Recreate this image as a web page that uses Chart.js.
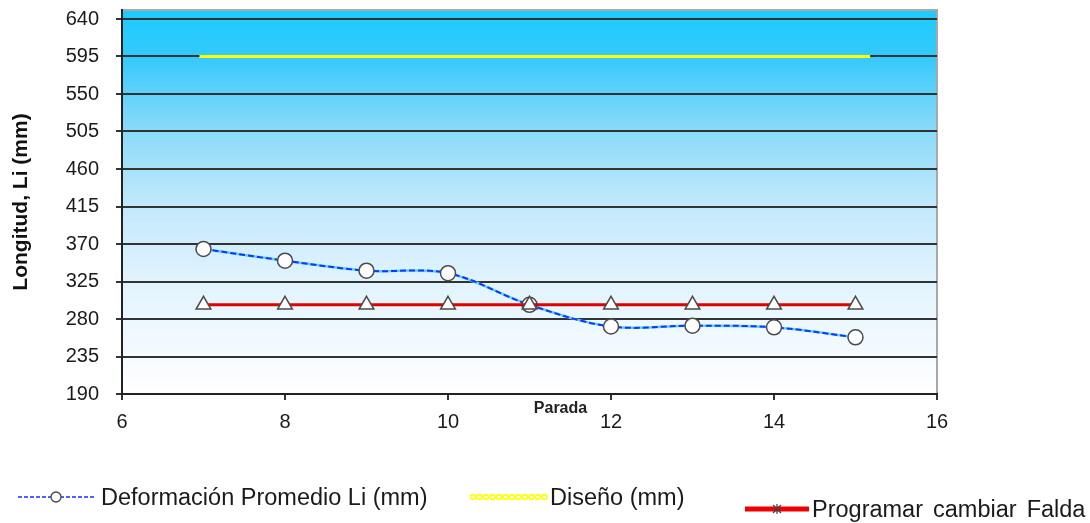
<!DOCTYPE html>
<html><head><meta charset="utf-8">
<script src="https://cdn.jsdelivr.net/npm/chart.js@4/dist/chart.umd.min.js"></script>
<style>
html,body{margin:0;padding:0;background:#fff;width:1090px;height:523px;overflow:hidden;}
#wrap{position:relative;width:1090px;height:523px;}
canvas{position:absolute;left:0;top:0;}
.lg{position:absolute;height:28px;display:flex;align-items:center;font-family:'Liberation Sans',Arial,sans-serif;font-size:23.5px;color:#1a1a1a;white-space:pre;}
.lg svg{display:block;}
</style></head>
<body><div id="wrap"><canvas id="c" width="1090" height="523"></canvas>
<div class="lg" style="left:18px;top:483px;"><svg width="80" height="16"><line x1="0" y1="8" x2="78" y2="8" stroke="#1a2cff" stroke-width="1.5" stroke-dasharray="4,2"/><circle cx="38" cy="8" r="5" fill="#fff" stroke="#444" stroke-width="1.3"/></svg><span style="margin-left:3px">Deformación Promedio Li (mm)</span></div>
<div class="lg" style="left:470px;top:483px;"><svg width="80" height="16" id="ysym"></svg><span>Diseño (mm)</span></div>
<div class="lg" style="left:745px;top:495px;word-spacing:3.5px;"><svg width="64" height="16"><line x1="0" y1="8" x2="63" y2="8" stroke="#ee0000" stroke-width="5" stroke-linecap="round"/><g stroke="#444" stroke-width="1.2"><line x1="28" y1="4" x2="36" y2="12"/><line x1="36" y1="4" x2="28" y2="12"/><line x1="32" y1="3" x2="32" y2="13"/></g></svg><span style="margin-left:3px">Programar cambiar Falda</span></div>
</div>
<script>
const paradas = [7, 8, 9, 10, 11, 12, 13, 14, 15];
const deformacion = [364, 350, 338, 335, 297, 271, 272, 270, 258];
const programar = [297, 297, 297, 297, 297, 297, 297, 297, 297];
const disenoX = [6.95, 15.18];
const disenoY = [595, 595];
const yTickValues = [190, 235, 280, 325, 370, 415, 460, 505, 550, 595, 640];
const xTickValues = [6, 8, 10, 12, 14, 16];

// yellow legend symbol
(function(){
  const s = document.getElementById('ysym');
  let h = '';
  for (let x = 3; x <= 76; x += 6.5) h += '<circle cx="'+x+'" cy="8" r="2.4" fill="none" stroke="#ffff00" stroke-width="1.6"/>';
  s.innerHTML = h;
})();

const toXY = (xs, ys) => xs.map((x, i) => ({x: x, y: ys[i]}));

const bgPlugin = {
  id: 'bg',
  beforeDraw(chart) {
    const {ctx, chartArea: a} = chart;
    const g = ctx.createLinearGradient(0, a.top, 0, a.bottom);
    g.addColorStop(0, '#1ecbff');
    g.addColorStop(0.12, '#33c9fb');
    g.addColorStop(0.30, '#86d9f9');
    g.addColorStop(0.50, '#c0e8fb');
    g.addColorStop(0.70, '#e0f3fd');
    g.addColorStop(0.88, '#f3faff');
    g.addColorStop(1, '#ffffff');
    ctx.save();
    ctx.fillStyle = g;
    ctx.fillRect(a.left, a.top, a.right - a.left, a.bottom - a.top);
    ctx.strokeStyle = '#a8a8a8';
    ctx.lineWidth = 2;
    ctx.beginPath();
    ctx.moveTo(a.left, a.top);
    ctx.lineTo(a.right, a.top);
    ctx.lineTo(a.right, a.bottom);
    ctx.stroke();
    ctx.restore();
  },
  afterDraw(chart) {
    const {ctx, chartArea: a} = chart;
    ctx.save();
    ctx.font = 'bold 16px "Liberation Sans", Arial, sans-serif';
    ctx.fillStyle = '#222';
    ctx.textAlign = 'center';
    ctx.textBaseline = 'middle';
    ctx.fillText('Parada', (a.left + a.right) / 2 + 31, a.bottom + 15);
    ctx.restore();
  }
};

const pointCommon = {
  pointBackgroundColor: '#ffffff',
  pointBorderColor: '#4a4a4a',
  pointBorderWidth: 1.5
};

new Chart(document.getElementById('c'), {
  type: 'scatter',
  data: {
    datasets: [
      Object.assign({
        label: 'Programar cambiar Falda',
        data: toXY(paradas, programar),
        showLine: true,
        borderColor: '#e00000',
        borderWidth: 3,
        pointStyle: 'triangle',
        pointRadius: 8.5,
        order: 0
      }, pointCommon),
      Object.assign({
        label: 'Deformación Promedio Li (mm)',
        data: toXY(paradas, deformacion),
        showLine: true,
        borderColor: '#1a30ff',
        borderWidth: 2,
        borderDash: [6, 3],
        tension: 0.35,
        pointStyle: 'circle',
        pointRadius: 7.5,
        order: 1
      }, pointCommon),
      {
        label: 'under',
        data: toXY(paradas, deformacion),
        showLine: true,
        borderColor: '#55d6ff',
        borderWidth: 2.5,
        tension: 0.35,
        pointRadius: 0,
        order: 2
      },
      {
        label: 'Diseño (mm)',
        data: toXY(disenoX, disenoY),
        showLine: true,
        borderColor: '#ffff00',
        borderWidth: 3,
        pointRadius: 0,
        order: 3
      }
    ]
  },
  options: {
    responsive: false,
    animation: false,
    devicePixelRatio: 1,
    layout: {padding: {top: 9, right: 153, left: 0, bottom: 0}},
    plugins: {legend: {display: false}, tooltip: {enabled: false}},
    scales: {
      x: {
        type: 'linear',
        min: 6, max: 16,
        afterBuildTicks: s => { s.ticks = xTickValues.map(v => ({value: v})); },
        afterFit: s => { s.height = 129; s.paddingLeft = 0; s.paddingRight = 0; },
        grid: {drawOnChartArea: false, drawTicks: true, tickLength: 6, color: '#333', lineWidth: 2},
        border: {display: true, color: '#222', width: 2},
        ticks: {font: {family: '"Liberation Sans", Arial, sans-serif', size: 20}, color: '#1a1a1a', padding: 10, maxRotation: 0}
      },
      y: {
        type: 'linear',
        min: 190, max: 650.8,
        afterBuildTicks: s => { s.ticks = yTickValues.map(v => ({value: v})); },
        afterFit: s => { s.width = 122; s.paddingTop = 0; s.paddingBottom = 0; },
        grid: {drawOnChartArea: true, drawTicks: true, tickLength: 6, color: '#333', lineWidth: 2},
        border: {display: true, color: '#222', width: 2},
        ticks: {font: {family: '"Liberation Sans", Arial, sans-serif', size: 20}, color: '#1a1a1a', padding: 17},
        title: {display: true, text: 'Longitud, Li (mm)', font: {family: '"Liberation Sans", Arial, sans-serif', size: 21, weight: 'bold'}, color: '#111', padding: {top: 9, bottom: 0}}
      }
    }
  },
  plugins: [bgPlugin]
});
</script>
</body></html>
